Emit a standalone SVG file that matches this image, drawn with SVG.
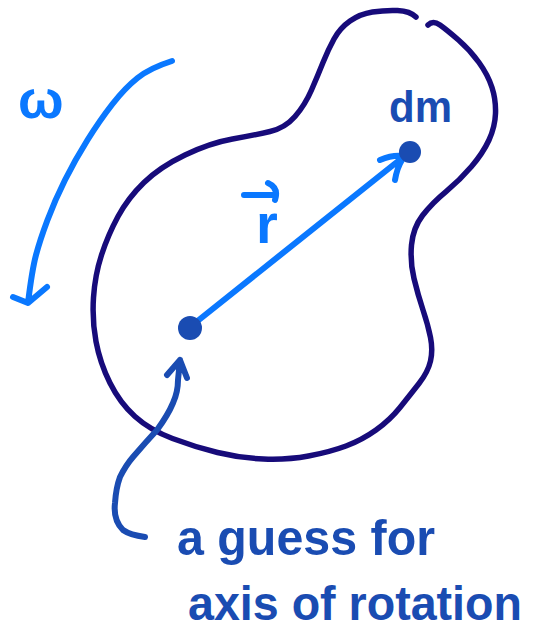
<svg xmlns="http://www.w3.org/2000/svg" width="536" height="639" viewBox="0 0 536 639">
<style>
.stroke{fill:none;stroke-linecap:round;stroke-linejoin:round}
.navy{stroke:#170b7a;stroke-width:5.5}
.light{stroke:#0a78ff;stroke-width:6}
.dark{stroke:#1a4cb2;stroke-width:6}
.dot{fill:#1a4cb2}
.lt{fill:#0a78ff;font-family:"Liberation Sans",Arial,sans-serif;font-weight:bold}
.dt{fill:#1a4cb2;font-family:"Liberation Sans",Arial,sans-serif;font-weight:bold}
</style>
<rect width="536" height="639" fill="#ffffff"/>
<g id="body">
<path class="stroke navy" d="M416,17 Q410,11 397.5,10.5 Q385,10 372.5,12 Q360,14 350,21 Q340,28 334,39 Q328,50 323,62.5 Q318,75 311.5,90 Q305,105 295,116.5 Q285,128 270,131.5 Q255,135 232.5,139 Q210,143 185,155 Q160,167 144,182.5 Q128,198 118,216.5 Q108,235 101.5,255 Q95,275 93.5,297.5 Q92,320 96,341.5 Q100,363 110,383 Q120,403 135,416.5 Q150,430 172.5,438.5 Q195,447 217.5,452.5 Q240,458 263.5,459 Q287,460 308.5,456 Q330,452 346,446 Q362,440 376,430 Q390,420 400,407.5 Q410,395 419,383.5 Q428,372 430.5,361 Q433,350 430.5,337.5 Q428,325 423,310 Q418,295 414,278.5 Q410,262 411.5,245 Q413,228 422.5,215.5 Q432,203 446,191.5 Q460,180 471.5,166.5 Q483,153 489,140 Q495,127 495.5,113.5 Q496,100 492,87.5 Q488,75 479,62.5 Q470,50 458.5,40 Q447,30 440,25 Q433,20 428,25"/>
</g>
<g id="connectors">
<path id="omega-arrow" class="stroke light" d="M172,61 Q150,68 137.5,78 Q125,88 112.5,104 Q100,120 87.5,140 Q75,160 65,180 Q55,200 47.5,220 Q40,240 36,255 Q32,270 28,303 M13,297 L28,303 L47,287"/>
<path id="r-vector" class="stroke light" d="M190,327 L402,158 M380,160 Q392,155 402,156 M395,180 Q397,168 402,160"/>
<path id="r-over-arrow" class="stroke light" d="M244,195 L276,195 M268,183 Q279,188 275,200"/>
<path id="axis-pointer" class="stroke dark" d="M145,537 Q130,535 123,530 Q113,520 115,503 Q116,488 120,477 Q126,465 133,457 Q145,443 157,430 Q168,415 173,403 Q178,392 178,380 L180,360 M167,375 L180,360 L187,378"/>
</g>
<g id="omega">
<text class="lt" x="18" y="118" font-size="54">ω</text>
</g>
<g id="r-label">
<text class="lt" x="256" y="243" font-size="56">r</text>
</g>
<g id="axis-point">
<circle class="dot" cx="190" cy="328" r="12"/>
</g>
<g id="dm">
<circle class="dot" cx="410" cy="152" r="11"/>
<text class="dt" x="389" y="122" font-size="44" textLength="63" lengthAdjust="spacingAndGlyphs">dm</text>
</g>
<g id="caption">
<text class="dt" x="177" y="555" font-size="50" textLength="258" lengthAdjust="spacingAndGlyphs">a guess for</text>
<text class="dt" x="188" y="620" font-size="48" textLength="334" lengthAdjust="spacingAndGlyphs">axis of rotation</text>
</g>
</svg>
